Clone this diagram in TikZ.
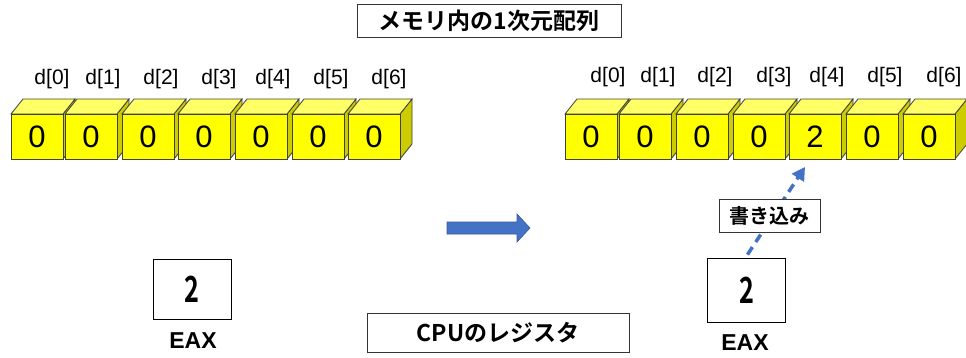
\documentclass[tikz,border=0pt]{standalone}
\usepackage{fontspec}
\usepackage{graphicx}
\setmainfont{Liberation Sans}
\newfontfamily\jp{Noto Sans CJK JP}[BoldFont={Noto Sans CJK JP Bold}]
\usetikzlibrary{arrows.meta,calc}
\definecolor{cfront}{HTML}{FFFF00}
\definecolor{ctop}{HTML}{FFFF66}
\definecolor{cside}{HTML}{CCCC00}
\definecolor{cblue}{HTML}{4472C4}
\definecolor{cedge}{HTML}{404040}
\newcommand\drawcube[3]{%
  \filldraw[cubeline,fill=cside] ({#1+52},114) -- ({#1+64},99) -- ({#1+64},144) -- ({#1+52},159) -- cycle;
  \filldraw[cubeline,fill=ctop] (#1,114) -- ({#1+12},99) -- ({#1+64},99) -- ({#1+52},114) -- cycle;
  \node[cubefront] (#2) at ({#1+26},136.5) {#3};}
\begin{document}
\begin{tikzpicture}[x=1pt,y=-1pt,
  cubeline/.style={draw=cedge,line width=0.8pt},
  cubefront/.style={draw=cedge,line width=0.8pt,fill=cfront,minimum width=52pt,minimum height=45pt,inner sep=0pt,font=\fontsize{31}{31}\selectfont},
  lbl/.style={font=\fontsize{21}{21}\selectfont,inner sep=0pt},
  jpbox/.style={draw=black!80,line width=0.8pt,fill=white,inner sep=0pt,font=\jp\bfseries\fontsize{23}{23}\selectfont},
  regbox/.style={draw=black,line width=0.8pt,fill=white,inner sep=0pt,minimum width=78pt,minimum height=60pt,font=\jp\bfseries\fontsize{36}{36}\selectfont},
  reglbl/.style={font=\bfseries\fontsize{23}{23}\selectfont,inner sep=0pt}]
\useasboundingbox (0,0) rectangle (966,358);
% title
\node[jpbox,minimum width=264pt,minimum height=33pt] (title) at (489,20.5) {メモリ内の1次元配列};
% left array
\drawcube{11}{la0}{0}
\drawcube{65}{la1}{0}
\drawcube{122}{la2}{0}
\drawcube{178}{la3}{0}
\drawcube{235}{la4}{0}
\drawcube{292}{la5}{0}
\drawcube{348}{la6}{0}
\node[lbl] (ll0) at (52,79) {d[0]};
\node[lbl] (ll1) at (103,79) {d[1]};
\node[lbl] (ll2) at (161,79) {d[2]};
\node[lbl] (ll3) at (219,79) {d[3]};
\node[lbl] (ll4) at (273,79) {d[4]};
\node[lbl] (ll5) at (331,79) {d[5]};
\node[lbl] (ll6) at (389,79) {d[6]};
% right array
\drawcube{565}{ra0}{0}
\drawcube{619}{ra1}{0}
\drawcube{676}{ra2}{0}
\drawcube{733}{ra3}{0}
\drawcube{789}{ra4}{2}
\drawcube{846}{ra5}{0}
\drawcube{903}{ra6}{0}
\node[lbl] (rl0) at (608,77) {d[0]};
\node[lbl] (rl1) at (658,77) {d[1]};
\node[lbl] (rl2) at (715,77) {d[2]};
\node[lbl] (rl3) at (774,77) {d[3]};
\node[lbl] (rl4) at (827,77) {d[4]};
\node[lbl] (rl5) at (885,77) {d[5]};
\node[lbl] (rl6) at (944,77) {d[6]};
% block arrow
\filldraw[fill=cblue,draw=cblue!80!black,line width=0.6pt] (447,222) -- (517,222) -- (517,214) -- (530,228) -- (517,242) -- (517,234) -- (447,234) -- cycle;
% registers
\node[regbox] (lreg) at (192,289) {\scalebox{0.7}[1]{2}};
\node[reglbl] (leax) at (193,341) {EAX};
\node[regbox,minimum height=64pt] (rreg) at (746.5,290) {\scalebox{0.7}[1]{2}};
\node[reglbl] (reax) at (745,343) {EAX};
% write arrow
\coordinate (tip) at (805,167);
\draw[cblue,line width=3.5pt,dash pattern=on 9pt off 6pt,-{Triangle[length=13pt,width=14pt]}] ($(rreg.north)+(1,-3)$) -- (tip);
\node[jpbox,minimum width=101pt,minimum height=33pt,font=\jp\bfseries\fontsize{20}{20}\selectfont] (write) at (769.5,215.5) {書き込み};
% cpu label
\node[jpbox,minimum width=262pt,minimum height=39pt] (cpu) at (498,332.5) {CPUのレジスタ};
\end{tikzpicture}
\end{document}
